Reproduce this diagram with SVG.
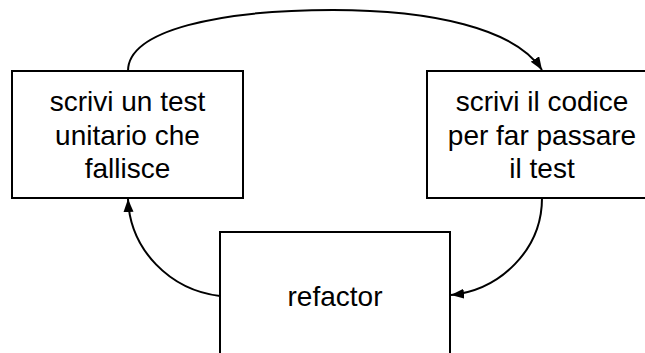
<svg xmlns="http://www.w3.org/2000/svg" width="645" height="353" viewBox="0 0 645 353">
  <style>
    .box { fill: #ffffff; stroke: #000000; stroke-width: 2; }
    .label { font-family: "Liberation Sans", Arial, sans-serif; font-size: 28px; fill: #000000; text-anchor: middle; }
    .edge { fill: none; stroke: #000000; stroke-width: 2; marker-end: url(#arrow); }
  </style>
  <defs>
    <marker id="arrow" markerUnits="userSpaceOnUse" markerWidth="14" markerHeight="11" refX="13" refY="5" orient="auto">
      <path d="M0,0 L13,5 L0,10 z" fill="#000000"/>
    </marker>
  </defs>

  <g id="connectors">
    <path class="edge" d="M128,71 C128,30 220,10 333,10 C430,10 515,28 542,70"/>
    <path class="edge" d="M542,198 C542,250 500,290 451,295"/>
    <path class="edge" d="M220,296 C170,290 130,250 128,199"/>
  </g>

  <g id="write-failing-test">
    <rect class="box" x="12" y="71" width="231" height="127"/>
    <text class="label" x="127.5" y="111">scrivi un test</text>
    <text class="label" x="127.5" y="144.5">unitario che</text>
    <text class="label" x="127.5" y="178">fallisce</text>
  </g>

  <g id="write-code">
    <rect class="box" x="427" y="71" width="230" height="127"/>
    <text class="label" x="542" y="111">scrivi il codice</text>
    <text class="label" x="542" y="144.5">per far passare</text>
    <text class="label" x="542" y="178">il test</text>
  </g>

  <g id="refactor">
    <rect class="box" x="220" y="232" width="230" height="140"/>
    <text class="label" x="335" y="306">refactor</text>
  </g>
</svg>
